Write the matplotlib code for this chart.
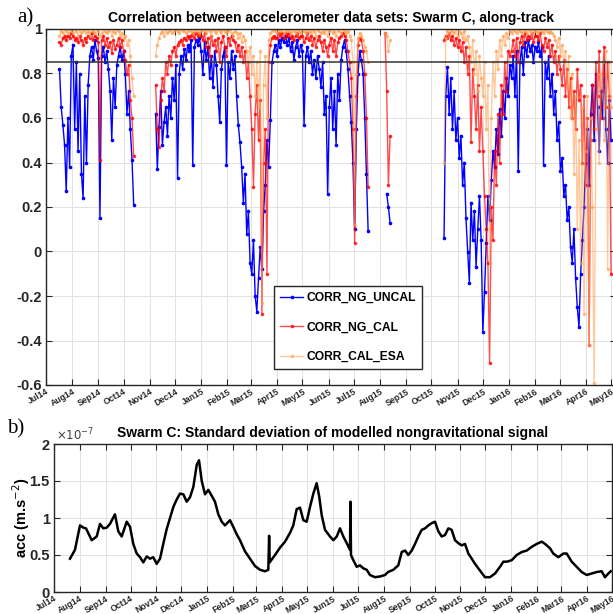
import numpy as np
import pandas as pd
import matplotlib
matplotlib.use('Agg')
import matplotlib.pyplot as plt

nan = np.nan

# panel a): correlations, one value every 2 days, four data segments
seg_starts = ['2014-07-17', '2014-11-08', '2015-08-07', '2015-10-16']

uncal_1 = [0.82, 0.65, 0.57, 0.48, 0.27, 0.60, 0.38, 0.88, 0.93, 0.55,
           0.85, 0.45, 0.80, 0.35, 0.24, 0.70, 0.40, 0.75, 0.88, 0.92,
           0.86, 0.95, 0.90, 0.87, 0.15, 0.88, 0.92, 0.85, 0.90, 0.82,
           0.72, 0.50, 0.78, 0.65, 0.84, 0.88, 0.92, 0.86, 0.90, 0.80,
           0.62, 0.72, 0.55, 0.41, 0.21]
cal_1 = [0.94, 0.93, 0.96, 0.97, 0.95, 0.97, 0.96, 0.98, 0.97, 0.95,
         0.96, 0.94, 0.97, 0.95, 0.93, 0.96, 0.94, 0.97, 0.96, 0.98,
         0.95, 0.97, 0.96, 0.94, 0.41, 0.95, 0.97, 0.93, 0.96, 0.92,
         0.94, 0.89, 0.95, 0.91, 0.93, 0.96, 0.92, 0.95, 0.90, 0.86,
         0.80, 0.84, 0.68, 0.60, 0.43]
esa_1 = [0.97, 0.99, 0.98, 1.00, 0.99, 0.98, 1.00, 0.99, 0.98, 1.00,
         0.99, 0.97, 1.00, 0.98, 0.99, 1.00, 0.98, 0.99, 0.97, 1.00,
         0.99, 0.98, 1.00, 0.99, 0.97, 0.98, 1.00, 0.99, 0.98, 0.99,
         1.00, 0.97, 0.99, 0.98, 1.00, 0.99, 0.97, 0.98, 0.96, 0.97,
         0.93, 0.95, 0.88, 0.78, 0.70]

uncal_2 = [0.62, 0.37, 0.56, 0.72, 0.48, 0.58, 0.65, 0.52, 0.70, 0.60,
           0.78, 0.68, 0.84, 0.33, 0.80, 0.88, 0.82, 0.91, 0.86, 0.93,
           0.90, 0.95, 0.39, 0.92, 0.95, 0.93, 0.96, 0.90, 0.80, 0.94,
           0.86, 0.92, 0.78, 0.88, 0.74, 0.90, 0.84, 0.70, 0.58, 0.82,
           0.88, 0.92, 0.39, 0.85, 0.78, 0.90, 0.82, 0.88, 0.70, 0.57,
           0.49, 0.38, 0.22, 0.35, 0.08, 0.18, -0.05, -0.10, 0.05, -0.20,
           -0.27, -0.12, 0.02, -0.08, 0.18, 0.30, 0.50, 0.38, 0.59, 0.85,
           0.90, 0.93, 0.88, 0.95, 0.92, 0.96, 0.94, 0.97, 0.93, 0.96,
           0.90, 0.94, 0.86, 0.92, 0.95, 0.88, 0.93, 0.90, 0.57, 0.88,
           0.92, 0.85, 0.90, 0.80, 0.86, 0.78, 0.88, 0.82, 0.74, 0.85,
           0.62, 0.70, 0.26, 0.65, 0.78, 0.55, 0.72, 0.48, 0.80, 0.68,
           0.86, 0.92, 0.95, 0.90, 0.82, 0.70, 0.58, 0.40, 0.10, 0.55,
           0.80, 0.90, 0.86, 0.80, 0.60, 0.35, 0.09]
cal_2 = [0.75, 0.55, 0.47, 0.68, 0.78, 0.72, 0.85, 0.80, 0.88, 0.84,
         0.90, 0.92, 0.88, 0.93, 0.94, 0.95, 0.93, 0.96, 0.95, 0.97,
         0.96, 0.97, 0.98, 0.96, 0.98, 0.97, 0.98, 0.97, 0.95, 0.98,
         0.92, 0.96, 0.88, 0.97, 0.93, 0.95, 0.90, 0.96, 0.85, 0.94,
         0.97, 0.92, 0.88, 0.96, 0.93, 0.97, 0.95, 0.94, 0.90, 0.93,
         0.88, 0.92, 0.85, 0.90, 0.78, 0.85, 0.70, 0.55, 0.29, 0.62,
         0.75, 0.50, 0.68, -0.28, 0.40, 0.55, -0.10, 0.85, 0.93, 0.96,
         0.97, 0.96, 0.96, 0.98, 0.97, 0.98, 0.96, 0.98, 0.97, 0.98,
         0.96, 0.97, 0.95, 0.97, 0.98, 0.96, 0.97, 0.97, 0.94, 0.96,
         0.98, 0.95, 0.97, 0.93, 0.96, 0.92, 0.95, 0.97, 0.94, 0.90,
         0.95, 0.92, 0.88, 0.93, 0.96, 0.90, 0.95, 0.88, 0.94, 0.96,
         0.97, 0.98, 0.97, 0.95, 0.90, 0.85, 0.78, 0.55, 0.04, 0.70,
         0.93, 0.96, 0.95, 0.90, 0.80, 0.60, 0.29]
esa_2 = [0.88, 0.93, 0.96, 0.98, 0.99, 0.97, 1.00, 0.98, 0.99, 1.00,
         0.98, 0.99, 1.00, 0.99, 0.98, 1.00, 0.99, 1.00, 0.98, 0.99,
         1.00, 0.99, 0.98, 1.00, 0.99, 1.00, 0.98, 0.99, 1.00, 0.99,
         0.98, 1.00, 0.99, 0.97, 1.00, 0.99, 0.98, 1.00, 0.99, 0.98,
         1.00, 0.99, 0.98, 0.99, 1.00, 0.98, 0.97, 0.99, 0.98, 0.96,
         0.98, 0.94, 0.97, 0.95, 0.90, 0.85, 0.92, 0.80, 0.88, 0.70,
         0.85, 0.65, 0.90, -0.23, 0.75, 0.88, 0.60, 0.95, 0.98, 0.99,
         1.00, 0.99, 0.98, 1.00, 0.99, 1.00, 0.98, 0.99, 1.00, 0.99,
         0.98, 1.00, 0.99, 0.98, 1.00, 0.99, 0.98, 1.00, 0.99, 0.98,
         1.00, 0.99, 0.98, 1.00, 0.99, 0.97, 1.00, 0.99, 0.98, 0.99,
         0.98, 1.00, 0.97, 0.99, 1.00, 0.98, 0.99, 0.97, 1.00, 0.99,
         0.98, 1.00, 0.99, 0.98, 0.99, 0.97, 0.95, 0.85, 0.12, 0.80,
         0.96, 0.98, 0.97, 0.95, 0.92, 0.90, 0.85]

uncal_3 = [nan, 0.26, 0.20, 0.13]
cal_3 = [0.98, 0.72, 0.30, 0.52]
esa_3 = [0.98, 0.97, 0.90, 0.95]

uncal_4 = [0.06, 0.70, 0.83, 0.62, 0.78, 0.55, 0.72, 0.50, 0.60, 0.42,
           0.52, 0.30, 0.40, 0.15, 0.00, -0.14, 0.22, 0.05, 0.18, -0.07,
           0.10, 0.25, 0.05, -0.36, -0.18, 0.04, 0.25, 0.14, 0.32, 0.45,
           0.38, 0.55, 0.44, 0.64, 0.52, 0.72, 0.60, 0.78, 0.70, 0.84,
           0.78, 0.88, 0.70, 0.90, 0.36, 0.85, 0.92, 0.80, 0.94, 0.88,
           0.95, 0.90, 0.93, 0.85, 0.92, 0.90, 0.94, 0.88, 0.92, 0.39,
           0.85, 0.78, 0.88, 0.70, 0.80, 0.62, 0.72, 0.50, 0.58, 0.36,
           0.42, 0.25, 0.30, 0.14, 0.20, 0.02, -0.05, 0.10, -0.12, -0.25,
           -0.34, -0.10, 0.05, 0.20, 0.40, 0.55, 0.30, 0.62, 0.75, 0.50,
           0.80, 0.65, 0.45, 0.72, 0.60, 0.85, 0.55, 0.40, 0.68, 0.50]
cal_4 = [0.95, 0.97, 0.96, 0.98, 0.95, 0.97, 0.93, 0.96, 0.92, 0.95,
         0.90, 0.94, 0.85, 0.92, 0.80, 0.88, 0.49, 0.82, 0.70, 0.55,
         0.75, 0.45, 0.65, 0.45, 0.25, 0.10, -0.05, -0.50, 0.20, 0.05,
         0.45, 0.30, 0.62, 0.40, 0.75, 0.62, 0.85, 0.72, 0.90, 0.88,
         0.90, 0.95, 0.88, 0.96, 0.85, 0.94, 0.97, 0.93, 0.98, 0.95,
         0.97, 0.96, 0.98, 0.94, 0.97, 0.97, 0.95, 0.98, 0.93, 0.90,
         0.96, 0.92, 0.95, 0.88, 0.93, 0.85, 0.90, 0.80, 0.88, 0.82,
         0.75, 0.86, 0.70, 0.82, 0.65, 0.78, 0.60, 0.72, 0.55, 0.82,
         0.68, 0.75, 0.40, 0.70, 0.30, 0.60, -0.42, 0.50, 0.75, 0.55,
         0.85, 0.70, 0.90, 0.60, 0.80, 0.92, 0.65, 0.85, 0.70, -0.10]
esa_4 = [0.40, 0.96, 0.99, 0.98, 1.00, 0.99, 0.98, 1.00, 0.97, 0.99,
         0.98, 0.96, 0.99, 0.95, 0.97, 0.92, 0.85, 0.95, 0.80, 0.90,
         0.72, 0.88, 0.78, 0.70, 0.85, 0.55, 0.75, -0.05, 0.60, 0.85,
         0.70, 0.90, 0.82, 0.95, 0.88, 0.97, 0.93, 0.98, 0.96, 0.99,
         0.98, 1.00, 0.99, 0.98, 1.00, 0.99, 0.98, 1.00, 0.99, 0.98,
         1.00, 0.99, 0.98, 1.00, 0.99, 0.99, 0.98, 1.00, 0.99, 0.98,
         1.00, 0.99, 0.98, 0.99, 0.98, 0.97, 0.95, 0.92, 0.96, 0.88,
         0.93, 0.85, 0.90, 0.75, 0.88, 0.60, 0.80, 0.35, 0.70, 0.10,
         0.50, -0.05, 0.65, -0.28, 0.45, 0.70, -0.42, 0.60, 0.20, -0.59,
         0.55, 0.80, 0.40, 0.75, 0.85, 0.50, 0.90, -0.08, 0.85, 0.65]

threshold = 0.85

# panel b): std of modelled nongravitational signal (units of 1e-7 m/s^2)
std_days = [19.2, 25.2, 31.2, 35.2, 38.4, 45.3, 51.3, 55.2, 59.2, 63.3,
            67.2, 73.2, 77.2, 81.3, 87.3, 91.3, 95.2, 99.3, 103.3, 107.2,
            111.3, 115.3, 119.2, 123.3, 127.3, 131.2, 135.3, 139.3, 143.3, 147.3,
            151.3, 155.3, 159.3, 163.3, 167.3, 171.4, 174.1, 177.4, 181.3, 185.3,
            189.4, 193.3, 197.3, 201.4, 205.3, 211.3, 215.3, 219.4, 223.3, 229.3,
            235.4, 241.4, 247.4, 253.4, 257.3, 258.3, 259.0, 260.2, 265.4, 271.4,
            277.4, 283.4, 287.3, 291.4, 295.4, 299.4, 303.4, 307.4, 311.4, 315.4,
            318.6, 321.4, 325.4, 331.4, 335.4, 339.5, 343.4, 347.4, 351.5, 355.4,
            356.0, 356.6, 359.4, 363.5, 367.4, 371.4, 375.5, 379.4, 385.4, 391.5,
            397.5, 401.1, 407.4, 413.4, 417.5, 421.5, 425.4, 429.5, 433.5, 437.4,
            441.5, 445.5, 449.5, 453.5, 457.5, 461.5, 465.5, 469.5, 473.5, 477.5,
            481.5, 485.5, 489.6, 493.5, 497.5, 501.6, 505.5, 511.5, 517.5, 523.5,
            529.5, 535.5, 539.5, 544.0, 549.6, 555.6, 561.6, 567.6, 573.6, 579.6,
            585.6, 589.6, 595.6, 599.5, 605.6, 611.6, 615.6, 621.6, 627.6, 633.6,
            639.6, 645.6, 651.7, 657.6, 661.6, 665.6, 668.5]
std_vals = [0.45, 0.57, 0.90, 0.87, 0.86, 0.70, 0.75, 0.92, 0.86, 0.87,
            0.92, 1.05, 0.82, 0.75, 0.95, 0.88, 0.65, 0.52, 0.47, 0.40,
            0.48, 0.45, 0.47, 0.38, 0.45, 0.65, 0.85, 1.00, 1.15, 1.25,
            1.33, 1.32, 1.22, 1.28, 1.42, 1.72, 1.78, 1.50, 1.32, 1.38,
            1.30, 1.22, 1.05, 0.95, 0.90, 0.97, 0.88, 0.78, 0.70, 0.55,
            0.45, 0.35, 0.30, 0.28, 0.30, 0.76, 0.40, 0.42, 0.50, 0.60,
            0.68, 0.80, 0.90, 1.12, 1.14, 0.97, 0.95, 1.15, 1.33, 1.47,
            1.28, 1.04, 0.84, 0.75, 0.70, 0.75, 0.86, 0.75, 0.66, 0.57,
            1.22, 0.50, 0.43, 0.34, 0.36, 0.32, 0.30, 0.23, 0.20, 0.21,
            0.23, 0.27, 0.30, 0.36, 0.54, 0.56, 0.50, 0.56, 0.65, 0.75,
            0.84, 0.86, 0.90, 0.93, 0.95, 0.82, 0.75, 0.77, 0.86, 0.84,
            0.70, 0.66, 0.63, 0.65, 0.52, 0.45, 0.38, 0.29, 0.20, 0.20,
            0.25, 0.34, 0.41, 0.41, 0.43, 0.50, 0.54, 0.56, 0.61, 0.65,
            0.68, 0.65, 0.59, 0.52, 0.47, 0.52, 0.52, 0.41, 0.34, 0.27,
            0.23, 0.25, 0.27, 0.28, 0.20, 0.25, 0.28]


def join(segs):
    t, v = [], []
    for start, vals in zip(seg_starts, segs):
        d = pd.date_range(start, periods=len(vals), freq='2D')
        t.extend(d)
        v.extend(vals)
        t.append(d[-1] + pd.Timedelta(days=1))
        v.append(nan)
    return np.array(t, dtype='datetime64[ns]'), np.array(v, float)


plt.rcParams['font.family'] = ['Liberation Sans', 'DejaVu Sans']
dark = '#262626'

t0 = pd.Timestamp('2014-07-01')
months = pd.date_range('2014-07-01', '2016-05-01', freq='MS')
month_labels = [m.strftime('%b%y') for m in months]

fig = plt.figure(figsize=(6.13, 6.14), dpi=100)

# ---- panel a
ax1 = fig.add_axes([46 / 613, 1 - 385 / 614, (616 - 46) / 613, (385 - 29) / 614])

series = [('CORR_NG_UNCAL', [uncal_1, uncal_2, uncal_3, uncal_4], (0, 0, 1), 1.0),
          ('CORR_NG_CAL', [cal_1, cal_2, cal_3, cal_4], (1, 0, 0), 0.7),
          ('CORR_CAL_ESA', [esa_1, esa_2, esa_3, esa_4], (1, 0.62, 0.3), 0.55)]
handles = []
for name, segs, col, a in series:
    t, v = join(segs)
    h, = ax1.plot(t, v, '.-', color=col, alpha=a, lw=1.0, ms=3.2, label=name)
    handles.append(h)

ax1.axhline(threshold, color='#333333', lw=1.1)

ax1.set_xlim(t0, t0 + pd.Timedelta(days=675.9))
ax1.set_ylim(-0.6, 1)
ax1.set_yticks(np.arange(-0.6, 1.01, 0.2))
ax1.set_yticklabels(['-0.6', '-0.4', '-0.2', '0', '0.2', '0.4', '0.6', '0.8', '1'],
                    fontsize=10.5, fontweight='bold')
ax1.set_title('Correlation between accelerometer data sets: Swarm C, along-track',
              fontsize=10, fontweight='bold', pad=5)

leg = ax1.legend(handles=handles, loc='upper left',
                 bbox_to_anchor=(274 / 613, 1 - 286 / 614), bbox_transform=fig.transFigure,
                 prop=dict(weight='bold', size=8.7), fancybox=False, framealpha=1,
                 edgecolor=dark, borderaxespad=0, borderpad=0.5, labelspacing=1.45,
                 handlelength=1.9, handletextpad=0.25)
leg.get_frame().set_linewidth(1.0)

# ---- panel b
ax2 = fig.add_axes([54 / 613, 1 - 592 / 614, (612 - 54) / 613, (592 - 444) / 614])
tb = t0 + pd.to_timedelta(std_days, unit='D')
ax2.plot(tb, std_vals, color='black', lw=1.8)
ax2.set_xlim(t0, pd.Timestamp('2016-05-01'))
ax2.set_ylim(0, 2)
ax2.set_yticks([0, 0.5, 1, 1.5, 2])
ax2.set_yticklabels(['0', '0.5', '1', '1.5', '2'], fontsize=10.5, fontweight='bold')
ax2.set_title('Swarm C: Standard deviation of modelled nongravitational signal',
              fontsize=10, fontweight='bold', pad=5)
ax2.set_ylabel('acc (m.s$^{-2}$)', fontsize=10.5, fontweight='bold')
ax2.yaxis.set_label_coords(-0.04, 0.5)
ax2.text(0.004, 1.004, r'$\times10^{-7}$', transform=ax2.transAxes, fontsize=8.5,
         color='#404040', ha='left', va='bottom')

for ax in (ax1, ax2):
    ax.set_xticks(months)
    ax.set_xticklabels(month_labels, rotation=30, ha='right', va='top',
                       rotation_mode='anchor', fontsize=6.2, fontweight='bold')
    ax.tick_params(direction='in', top=True, right=True, length=4, width=0.8,
                   colors=dark)
    ax.tick_params(axis='x', pad=1.5)
    ax.tick_params(axis='y', pad=3)
    ax.grid(True, color='#e2e2e2', lw=0.7)
    ax.set_axisbelow(True)
    for s in ax.spines.values():
        s.set_color(dark)
        s.set_linewidth(1.0)

fig.text(17 / 613, 1 - 22 / 614, 'a)', family='Liberation Serif', fontsize=15, va='baseline')
fig.text(7 / 613, 1 - 433 / 614, 'b)', family='Liberation Serif', fontsize=15, va='baseline')

fig.savefig('out.png', dpi=100)
